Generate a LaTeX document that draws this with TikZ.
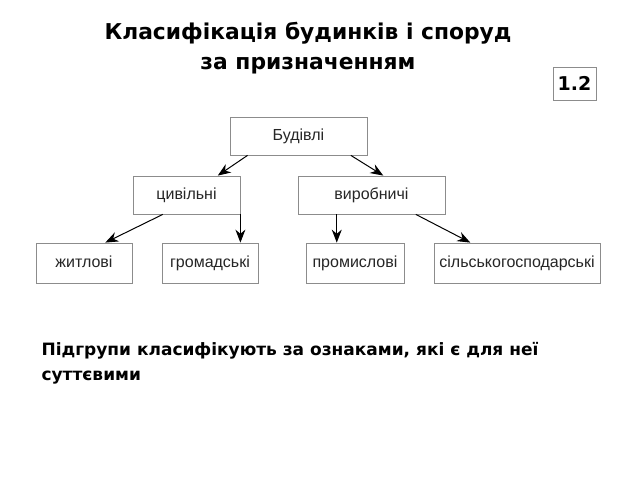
\documentclass[tikz,border=0pt]{standalone}
\usepackage{fontspec}
\setmainfont{DejaVu Sans}
\newfontfamily\boxfont{Liberation Sans}
\usetikzlibrary{calc,positioning}
\usetikzlibrary{arrows.meta,shadows}

\begin{document}
\begin{tikzpicture}[x=1pt,y=-1pt,
		arr/.style={-{Stealth[length=13pt,width=10pt]},line width=1pt},
		box/.style={draw=gray!90,fill=white,line width=0.8pt,
			drop shadow={shadow xshift=1pt,shadow yshift=-1pt,fill=gray!80,opacity=1},
			inner sep=0pt,minimum height=38pt,text height=11.5pt,text depth=3pt,
			font=\boxfont\fontsize{16}{18}\selectfont,text=black!85},
		title/.style={font=\bfseries\fontsize{21.8}{30}\selectfont,align=center}]
		\useasboundingbox (0,0) rectangle (640,480);
		\node[title] (head) at (308,48) {Класифікація будинків і споруд\\за призначенням};
		\node[draw=gray!90,line width=0.8pt,minimum width=43pt,minimum height=33pt,inner sep=0pt,
			font=\bfseries\fontsize{19}{22}\selectfont] (num) at (574.5,83.5) {1.2};

		\node[box,minimum width=137pt] (bud) at (298.5,136) {Будівлі};
		\node[box,minimum width=107pt] (civ) at (186.5,195) {цивільні};
		\node[box,minimum width=147pt] (vyr) at (371.5,195) {виробничі};
		\node[box,minimum width=96pt,minimum height=40pt] (zhyt) at (84,263) {житлові};
		\node[box,minimum width=96pt,minimum height=40pt] (grom) at (210,263) {громадські};
		\node[box,minimum width=98pt,minimum height=40pt] (prom) at (355,263) {промислові};
		\node[box,minimum width=166pt,minimum height=40pt] (sil) at (517,263) {сільськогосподарські};

		\draw[arr] ($(bud.south west)!.13!(bud.south east)$) -- ($(civ.north west)!.79!(civ.north east)$);
		\draw[arr] ($(bud.south west)!.88!(bud.south east)$) -- ($(vyr.north west)!.58!(vyr.north east)$);
		\draw[arr] ($(civ.south west)!.28!(civ.south east)$) -- ($(zhyt.north west)!.72!(zhyt.north east)$);
		\draw[arr] (civ.south east) -- (civ.south east |- grom.north);
		\draw[arr] ($(vyr.south west)!.265!(vyr.south east)$) coordinate (v) -- (v |- prom.north);
		\draw[arr] ($(vyr.south west)!.8!(vyr.south east)$) -- ($(sil.north west)!.22!(sil.north east)$);

		\node[anchor=north west,align=left,font=\bfseries\fontsize{17}{25}\selectfont] (note) at (38,339)
			{Підгрупи класифікують за ознаками, які є для неї\\суттєвими};
	\end{tikzpicture}
\end{document}
